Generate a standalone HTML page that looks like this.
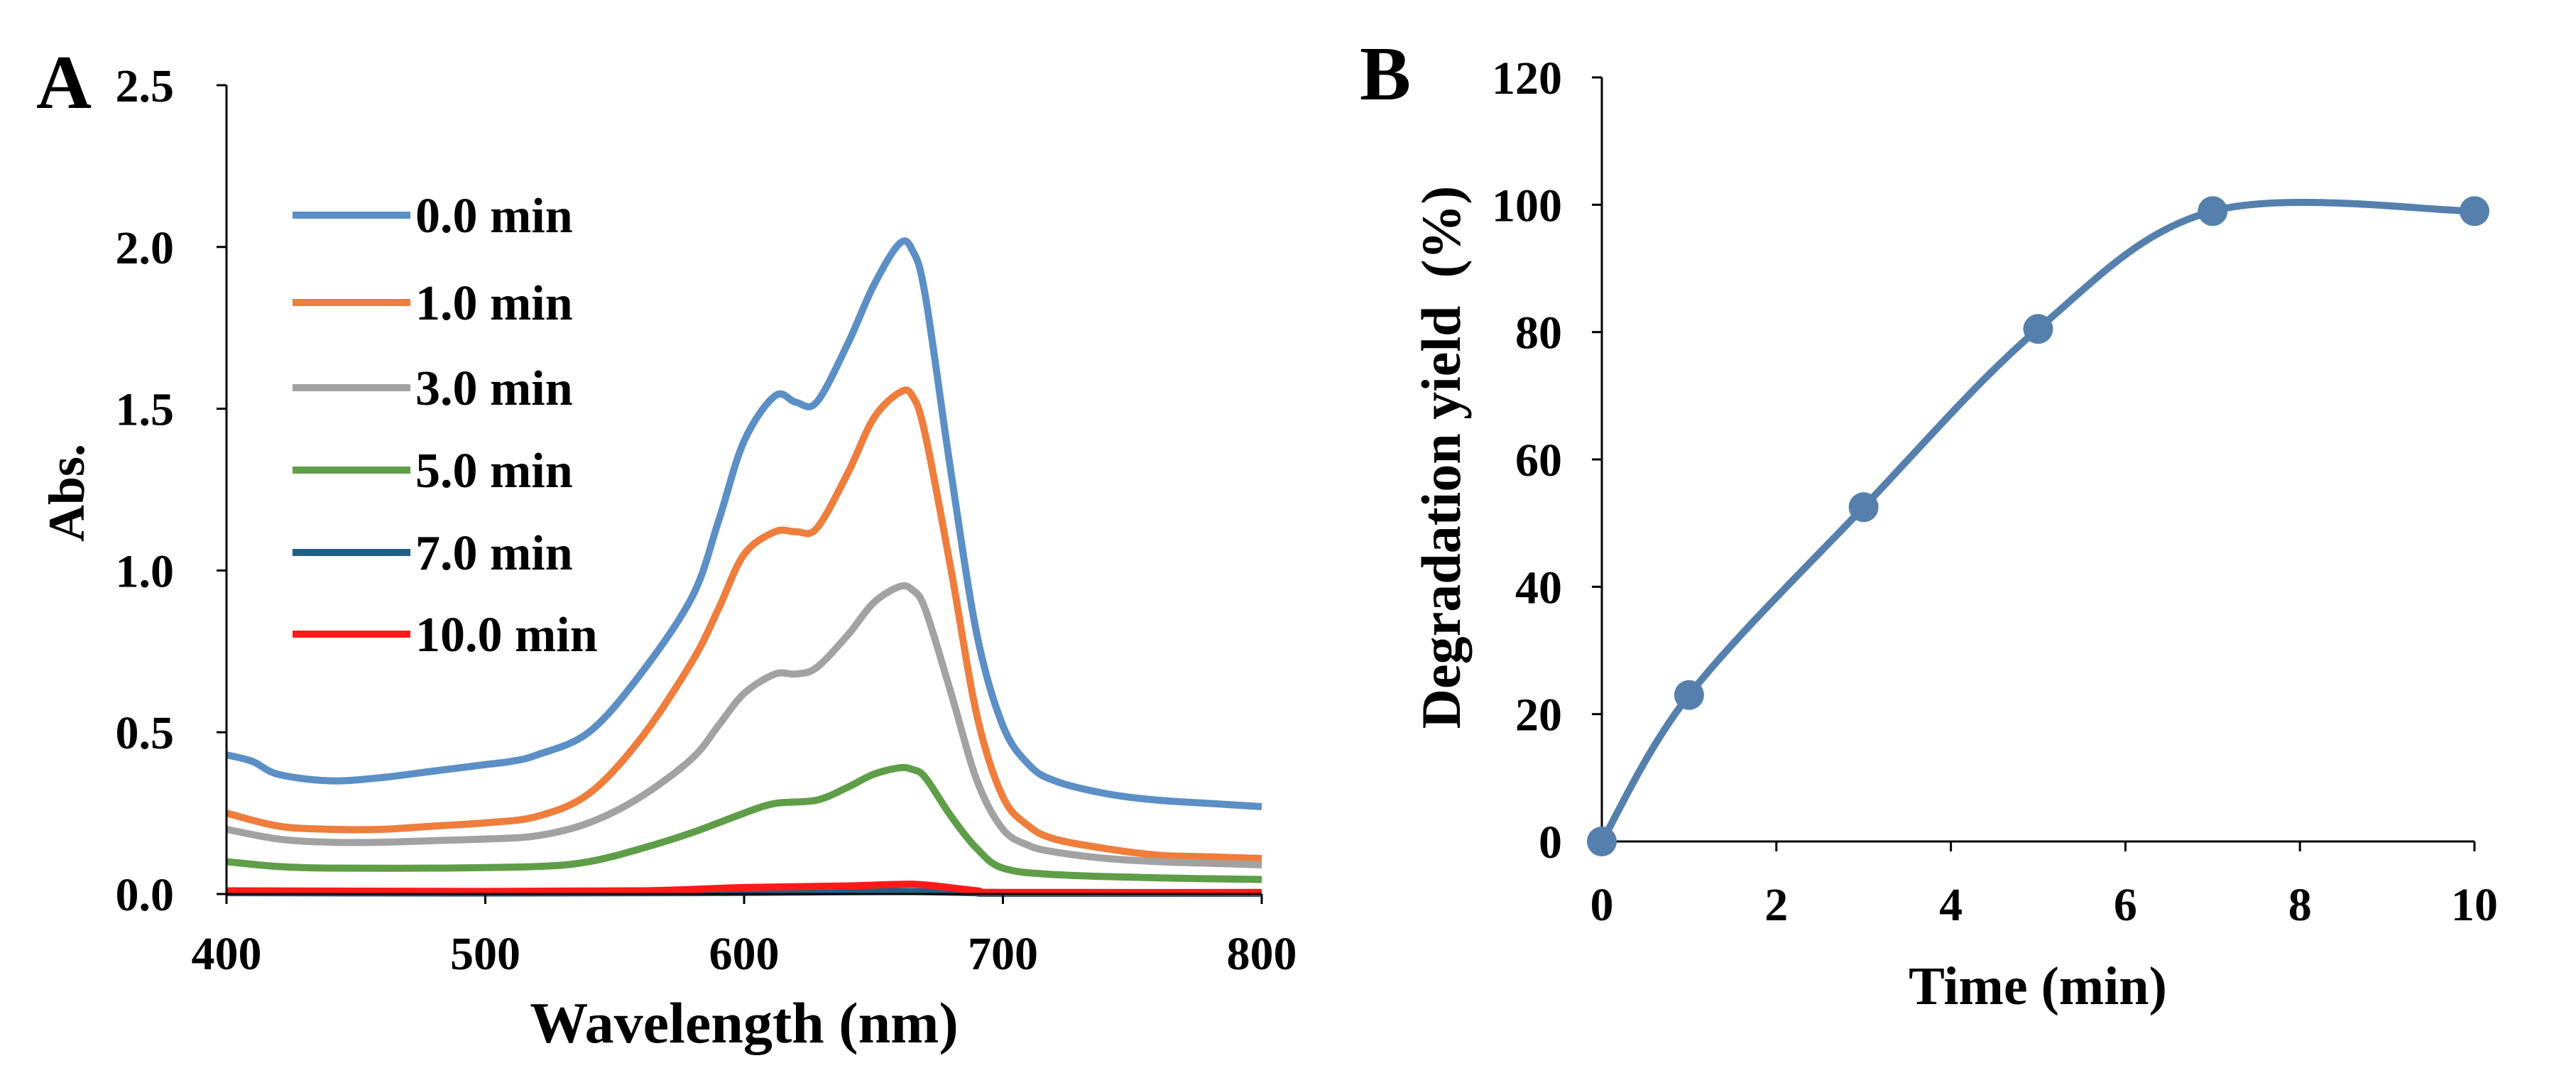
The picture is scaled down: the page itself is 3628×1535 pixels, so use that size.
<!DOCTYPE html>
<html><head><meta charset="utf-8"><style>
html,body{margin:0;padding:0;background:#fff;}
svg text{font-family:"Liberation Serif",serif;font-weight:bold;fill:#000;}
</style></head><body>
<svg id="fig" width="3628" height="1530" viewBox="0 0 3628 1530" xmlns="http://www.w3.org/2000/svg">
<g id="pa"></g>
<g id="pb"></g>
</svg>
<script>
const NS="http://www.w3.org/2000/svg";
// Panel A data
const wlTicks=[400,500,600,700,800];
const absTicks=[0.0,0.5,1.0,1.5,2.0,2.5];
const seriesNames=["0.0 min","1.0 min","3.0 min","5.0 min","7.0 min","10.0 min"];
const seriesColors=["#5b8fc6","#ef7d3c","#a2a2a2","#5e9e48","#1f6184","#ff1a1a"];
const wl0=[400,410,420,440,460,480,500,510,520,540,560,580,590,600,612,620,628,640,650,660,665,670,680,690,700,710,720,740,760,780,800];
const abs0=[0.43,0.41,0.37,0.35,0.36,0.38,0.40,0.41,0.43,0.50,0.68,0.92,1.15,1.40,1.54,1.52,1.52,1.70,1.88,2.01,1.99,1.85,1.30,0.80,0.52,0.40,0.35,0.31,0.29,0.28,0.27];
const wl1=[400,420,440,460,480,500,520,540,560,580,590,600,612,620,628,640,650,660,665,670,680,690,700,710,720,740,760,780,800];
const abs1=[0.25,0.21,0.20,0.20,0.21,0.22,0.24,0.31,0.48,0.72,0.88,1.05,1.12,1.12,1.13,1.30,1.47,1.55,1.54,1.42,1.00,0.55,0.30,0.21,0.17,0.14,0.12,0.115,0.11];
const wl3=[400,420,440,460,480,500,520,540,560,580,590,600,612,620,628,640,650,660,665,670,680,690,700,710,720,740,760,780,800];
const abs3=[0.20,0.17,0.16,0.16,0.165,0.17,0.18,0.22,0.30,0.42,0.52,0.62,0.68,0.68,0.70,0.80,0.90,0.95,0.94,0.88,0.62,0.35,0.20,0.15,0.13,0.11,0.10,0.095,0.09];
const wl5=[400,420,440,480,520,540,560,580,600,612,628,640,650,660,665,670,680,690,700,720,760,800];
const abs5=[0.10,0.085,0.08,0.08,0.085,0.10,0.14,0.19,0.25,0.28,0.29,0.33,0.37,0.39,0.385,0.36,0.24,0.14,0.08,0.06,0.05,0.045];
const wl7=[400,500,580,620,660,690,700,800];
const abs7=[0.004,0.003,0.004,0.006,0.008,0.004,0.002,0.002];
const wl10=[400,500,560,600,640,660,670,690,700,800];
const abs10=[0.01,0.008,0.01,0.02,0.025,0.03,0.028,0.01,0.005,0.005];
const allWl=[wl0,wl1,wl3,wl5,wl7,wl10];
const allAbs=[abs0,abs1,abs3,abs5,abs7,abs10];
// Panel B data
const timeVals=[0,1,3,5,7,10];
const yieldVals=[0,23,52.5,80.5,99,99];
const timeTicks=[0,2,4,6,8,10];
const yieldTicks=[0,20,40,60,80,100,120];

function el(tag,attrs,parent){const e=document.createElementNS(NS,tag);for(const k in attrs)e.setAttribute(k,attrs[k]);parent.appendChild(e);return e;}
function smooth(pts){let d="M"+pts[0][0]+","+pts[0][1];for(let i=0;i<pts.length-1;i++){const p0=pts[i-1]||pts[i],p1=pts[i],p2=pts[i+1],p3=pts[i+2]||p2;const c1=[p1[0]+(p2[0]-p0[0])/6,p1[1]+(p2[1]-p0[1])/6],c2=[p2[0]-(p3[0]-p1[0])/6,p2[1]-(p3[1]-p1[1])/6];d+="C"+c1[0]+","+c1[1]+" "+c2[0]+","+c2[1]+" "+p2[0]+","+p2[1];}return d;}

// Panel A
const pa=document.getElementById('pa');
const ax=v=>319+(v-400)/400*(1777-319);
const ay=v=>1259-v/2.5*(1259-120);
for(let s=0;s<allWl.length;s++){
  const p=el('path',{d:smooth(allWl[s].map((w,i)=>[ax(w),ay(allAbs[s][i])])),fill:'none',stroke:seriesColors[s],'stroke-width':10,'stroke-linejoin':'round'},pa);
  
  
}
let a1=el('line',{x1:319,y1:120,x2:319,y2:1259,stroke:'#000','stroke-width':3},pa);

let a2=el('line',{x1:319,y1:1259,x2:1777,y2:1259,stroke:'#000','stroke-width':3},pa);

absTicks.forEach(v=>{el('line',{x1:305,y1:ay(v),x2:319,y2:ay(v),stroke:'#000','stroke-width':3},pa);
  const t=el('text',{x:245,y:ay(v)+23,'text-anchor':'end','font-size':66},pa);t.textContent=v.toFixed(1);
  });
wlTicks.forEach(v=>{el('line',{x1:ax(v),y1:1259,x2:ax(v),y2:1273,stroke:'#000','stroke-width':3},pa);
  const t=el('text',{x:ax(v),y:1365,'text-anchor':'middle','font-size':66},pa);t.textContent=v;
  });
const legY=[303,426,546,662,778,893];
seriesNames.forEach((n,i)=>{const g=el('g',{},pa);
  
  el('line',{x1:412,y1:legY[i],x2:578,y2:legY[i],stroke:seriesColors[i],'stroke-width':10},g);
  const t=el('text',{x:585,y:legY[i]+24,'font-size':70},g);t.textContent=n;});
let t;
t=el('text',{x:1048,y:1468,'text-anchor':'middle','font-size':82},pa);t.textContent="Wavelength (nm)";
t=el('text',{x:0,y:0,'text-anchor':'middle','font-size':72,transform:'translate(118,694) rotate(-90)'},pa);t.textContent="Abs.";
t=el('text',{x:90,y:152,'text-anchor':'middle','font-size':108},pa);t.textContent="A";

// Panel B
const pb=document.getElementById('pb');
const bx=v=>2256+v/10*(3485-2256);
const by=v=>1185-v/120*(1185-109);
let b1=el('line',{x1:2256,y1:109,x2:2256,y2:1185,stroke:'#000','stroke-width':3},pb);

let b2=el('line',{x1:2256,y1:1185,x2:3485,y2:1185,stroke:'#000','stroke-width':3},pb);

yieldTicks.forEach(v=>{el('line',{x1:2242,y1:by(v),x2:2256,y2:by(v),stroke:'#000','stroke-width':3},pb);
  const t=el('text',{x:2200,y:by(v)+23,'text-anchor':'end','font-size':66},pb);t.textContent=v;
  });
timeTicks.forEach(v=>{el('line',{x1:bx(v),y1:1185,x2:bx(v),y2:1199,stroke:'#000','stroke-width':3},pb);
  const t=el('text',{x:bx(v),y:1296,'text-anchor':'middle','font-size':66},pb);t.textContent=v;
  });
const pts=timeVals.map((x,i)=>[bx(x),by(yieldVals[i])]);
let ln=el('path',{d:smooth(pts),fill:'none',stroke:'#5580ad','stroke-width':10},pb);

pts.forEach(p=>{const c=el('circle',{cx:p[0],cy:p[1],r:21,fill:'#5580ad'},pb);
  });
t=el('text',{x:2870,y:1414,'text-anchor':'middle','font-size':76},pb);t.textContent="Time (min)";
t=el('text',{x:0,y:0,'text-anchor':'middle','font-size':78,'xml:space':'preserve',transform:'translate(2056,644) rotate(-90)'},pb);t.textContent="Degradation yield\u00a0\u00a0(%)";
t=el('text',{x:1951,y:140,'text-anchor':'middle','font-size':108},pb);t.textContent="B";
</script>
</body></html>
